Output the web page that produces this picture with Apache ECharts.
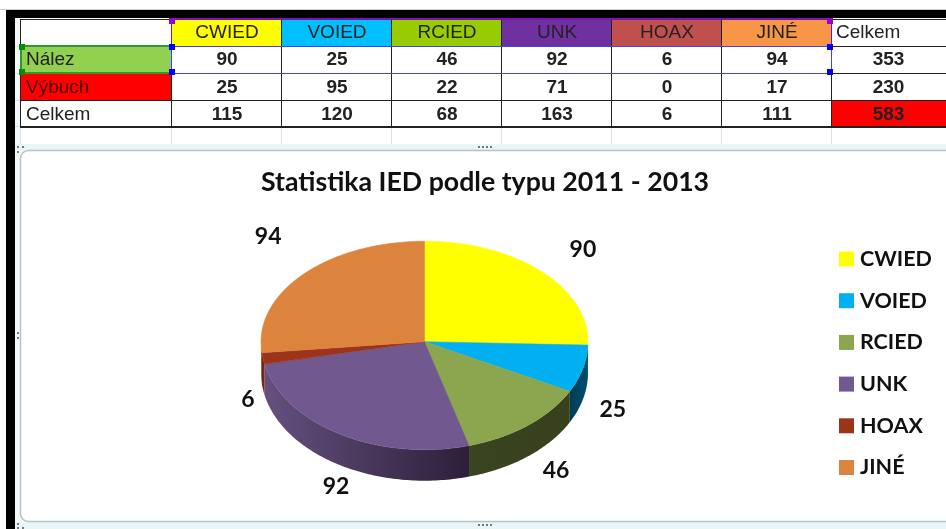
<!DOCTYPE html>
<html>
<head>
<meta charset="utf-8">
<title>Statistika IED</title>
<style>
html, body { margin: 0; padding: 0; background: #fff; }
#chart { width: 946px; height: 529px; }
</style>
<script src="https://cdn.jsdelivr.net/npm/echarts@6/dist/echarts.min.js"></script>
</head>
<body>
<div id="chart"></div>
<script>
var categories = ["CWIED", "VOIED", "RCIED", "UNK", "HOAX", "JINÉ"];
var nalez = [90, 25, 46, 92, 6, 94];
var vybuch = [25, 95, 22, 71, 0, 17];
var celkem = [115, 120, 68, 163, 6, 111];
var rowNames = ["Nález", "Výbuch", "Celkem"];
var rowTotals = [353, 230, 583];
var totalLabel = "Celkem";
var chartTitle = "Statistika IED podle typu 2011 - 2013";

// colours
var headerColors = ["#ffff00", "#00bfff", "#99cc00", "#7030a0", "#c0504d", "#f79646"];
var pieColors = ["#ffff00", "#00b0f0", "#8ba64e", "#71588f", "#9e331c", "#dc843e"];
var sideColors = [
    ["#6b6b00", "#6b6b00"],
    ["#003c55", "#00506e"],
    ["#3a4420", "#38401e"],
    ["#65507f", "#2d1f39"],
    ["#6e2212", "#7c2a18"],
    ["#8a5020", "#8a5020"]
];

// layout, the pie is in perspective so the near half of the ellipse is a bit taller
var colX = [20, 171, 281, 391, 501, 611, 721, 831, 946];
var rowY = [19, 46, 73, 100, 126];
var cx = 424.5, cy = 341.7, rx = 163.5, ryBack = 100.5, ryFront = 108, depth = 31;
var labelOffsets = [[41, -22], [30, 41], [28, 45], [-4, 52], [-15, 41], [-35, -38]];

var sum = nalez.reduce(function (a, b) { return a + b; }, 0);

function startAngle(idx) {
    var s = 0;
    for (var i = 0; i < idx; i++) s += nalez[i];
    return s / sum * Math.PI * 2;
}

function rim(a, dy) {
    var c = Math.cos(a);
    return [cx + rx * Math.sin(a), cy - (c > 0 ? ryBack : ryFront) * c + (dy || 0)];
}

function renderSlice(idx) {
    return function (params, api) {
        var a0 = startAngle(idx);
        var a1 = a0 + api.value(0) / sum * Math.PI * 2;
        var children = [];
        var step = Math.PI / 180;
        var a;

        // side wall, only the front half of the rim
        var s0 = Math.max(a0, Math.PI / 2), s1 = Math.min(a1, Math.PI * 1.5);
        if (s1 > s0) {
            var side = [];
            for (a = s0; a < s1; a += step) side.push(rim(a));
            side.push(rim(s1));
            for (a = s1; a > s0; a -= step) side.push(rim(a, depth));
            side.push(rim(s0, depth));
            var xs = side.map(function (p) { return p[0]; });
            children.push({
                type: "polygon",
                shape: { points: side },
                style: {
                    fill: new echarts.graphic.LinearGradient(
                        Math.min.apply(null, xs), 0, Math.max.apply(null, xs), 0,
                        [{ offset: 0, color: sideColors[idx][0] }, { offset: 1, color: sideColors[idx][1] }],
                        true
                    )
                },
                z2: 1
            });
        }

        // top face
        var top = [[cx, cy]];
        for (a = a0; a < a1; a += step) top.push(rim(a));
        top.push(rim(a1));
        children.push({
            type: "polygon",
            shape: { points: top },
            style: { fill: pieColors[idx], stroke: pieColors[idx], lineWidth: 0.5 },
            z2: 2
        });

        // value label
        var mid = rim((a0 + a1) / 2);
        children.push({
            type: "text",
            x: mid[0] + labelOffsets[idx][0],
            y: mid[1] + labelOffsets[idx][1],
            style: {
                text: String(api.value(0)),
                fill: "#111",
                font: "bold 23px Lato",
                textAlign: "center",
                textVerticalAlign: "middle"
            },
            z2: 3
        });
        return { type: "group", children: children };
    };
}

// spreadsheet behind the chart
function rect(x, y, w, h, fill) {
    return { type: "rect", shape: { x: x, y: y, width: w, height: h }, style: { fill: fill }, silent: true };
}
function cellText(str, x, y, bold, align, color) {
    return {
        type: "text", x: x, y: y, silent: true,
        style: {
            text: String(str),
            fill: color || "#222",
            font: (bold ? "bold " : "") + "19px 'Liberation Sans'",
            textAlign: align || "center",
            textVerticalAlign: "middle"
        }
    };
}

var g = [];
g.push(rect(0, 9, 946, 1, "#cfcfcf"));
g.push(rect(15, 19, 931, 510, "#f4fafb"));
g.push(rect(20, 19, 926, 125, "#ffffff"));

// pale sheet gridlines under the table
colX.slice(0, 8).forEach(function (x) { g.push(rect(x, 126, 1, 24, "#d9e1ea")); });
[46, 73, 100, 126].forEach(function (y) { g.push(rect(15, y, 5, 1, "#d9e1ea")); });

// header + first column fills
headerColors.forEach(function (c, i) { g.push(rect(colX[i + 1], rowY[0], colX[i + 2] - colX[i + 1], rowY[1] - rowY[0], c)); });
g.push(rect(colX[0], rowY[1], colX[1] - colX[0], 27, "#92d050"));
g.push(rect(colX[0], rowY[2], colX[1] - colX[0], 27, "#ff0000"));
g.push(rect(colX[7], rowY[3], colX[8] - colX[7], 26, "#ff0000"));

// cell borders
colX.slice(0, 8).forEach(function (x) { g.push(rect(x, rowY[0], 1, rowY[4] - rowY[0], "#222")); });
rowY.forEach(function (y, i) { g.push(rect(colX[0], y, 926, i === 4 ? 2 : 1, "#222")); });

// selection outlines and handles
g.push(rect(171, 18, 660, 2, "#7a14b4"));
g.push(rect(171, 19, 1, 27, "#7a14b4"));
g.push(rect(831, 19, 1, 27, "#7a14b4"));
g.push(rect(171, 46, 660, 1, "#4040ff"));
g.push(rect(171, 73, 660, 1, "#4040ff"));
g.push(rect(171, 46, 1, 27, "#4040ff"));
g.push(rect(831, 46, 1, 27, "#4040ff"));
g.push(rect(20, 45, 151, 2, "#2e9a2e"));
g.push(rect(20, 72, 151, 2, "#2e9a2e"));
g.push(rect(20, 46, 2, 27, "#2e9a2e"));
[[169, 18, "#9a00d0"], [827, 18, "#9a00d0"], [169, 44, "#0000ff"], [827, 44, "#0000ff"],
 [169, 69, "#0000ff"], [827, 69, "#0000ff"], [19, 44, "#0a8a0a"], [19, 69, "#0a8a0a"]].forEach(function (h) {
    g.push(rect(h[0], h[1], 6, 6, h[2]));
});

// cell texts
categories.forEach(function (c, i) {
    var mx = (colX[i + 1] + colX[i + 2]) / 2 + 1;
    g.push(cellText(c, mx, 32.5, false));
    g.push(cellText(nalez[i], mx, 60, true));
    g.push(cellText(vybuch[i], mx, 88, true));
    g.push(cellText(celkem[i], mx, 115, true));
});
g.push(cellText(totalLabel, 836, 32.5, false, "left"));
rowNames.forEach(function (r, i) {
    var ty = [60, 88, 115][i];
    g.push(cellText(r, 26, ty, false, "left", i === 1 ? "#4a0000" : "#222"));
    g.push(cellText(rowTotals[i], 888.5, ty, true));
});

// chart frame
g.push(rect(15, 144, 931, 6, "#e8f6f8"));
g.push(rect(15, 522, 931, 7, "#e8f6f8"));
g.push({
    type: "rect", silent: true,
    shape: { x: 20.5, y: 150.5, width: 940, height: 371, r: 8 },
    style: { fill: "#ffffff", stroke: "#b9c4c6", lineWidth: 1.5 }
});
// black window edge
g.push(rect(6, 10, 940, 8, "#000000"));
g.push(rect(6, 10, 9, 519, "#000000"));
// resize dots
[[478, 146], [478, 524]].forEach(function (p) {
    [0, 1, 2, 3].forEach(function (k) { g.push(rect(p[0] + k * 4, p[1], 2, 2, "#777")); });
});
[[17, 146], [17, 151], [22, 146], [17, 332], [17, 337], [17, 523], [17, 527], [22, 527]].forEach(function (p) {
    g.push(rect(p[0], p[1], 2, 2, "#777"));
});
g.forEach(function (el) { el.z = -10; });

var chart = echarts.init(document.getElementById("chart"), null, { renderer: "canvas" });
chart.setOption({
    animation: false,
    backgroundColor: "#ffffff",
    title: {
        text: chartTitle,
        left: 480,
        top: 164,
        textAlign: "center",
        textStyle: { fontFamily: "Lato", fontWeight: "bold", fontSize: 26.7, color: "#111" }
    },
    legend: {
        orient: "vertical",
        left: 839,
        top: 248,
        padding: 0,
        itemWidth: 15,
        itemHeight: 15,
        itemGap: 19.7,
        icon: "rect",
        selectedMode: false,
        data: categories,
        textStyle: { fontFamily: "Lato", fontWeight: "bold", fontSize: 21.5, color: "#111", padding: [0, 0, 0, 1] }
    },
    graphic: { elements: g },
    series: categories.map(function (name, i) {
        return {
            type: "custom",
            name: name,
            coordinateSystem: "none",
            renderItem: renderSlice(i),
            itemStyle: { color: pieColors[i] },
            silent: true,
            data: [[nalez[i]]]
        };
    })
});
</script>
</body>
</html>
